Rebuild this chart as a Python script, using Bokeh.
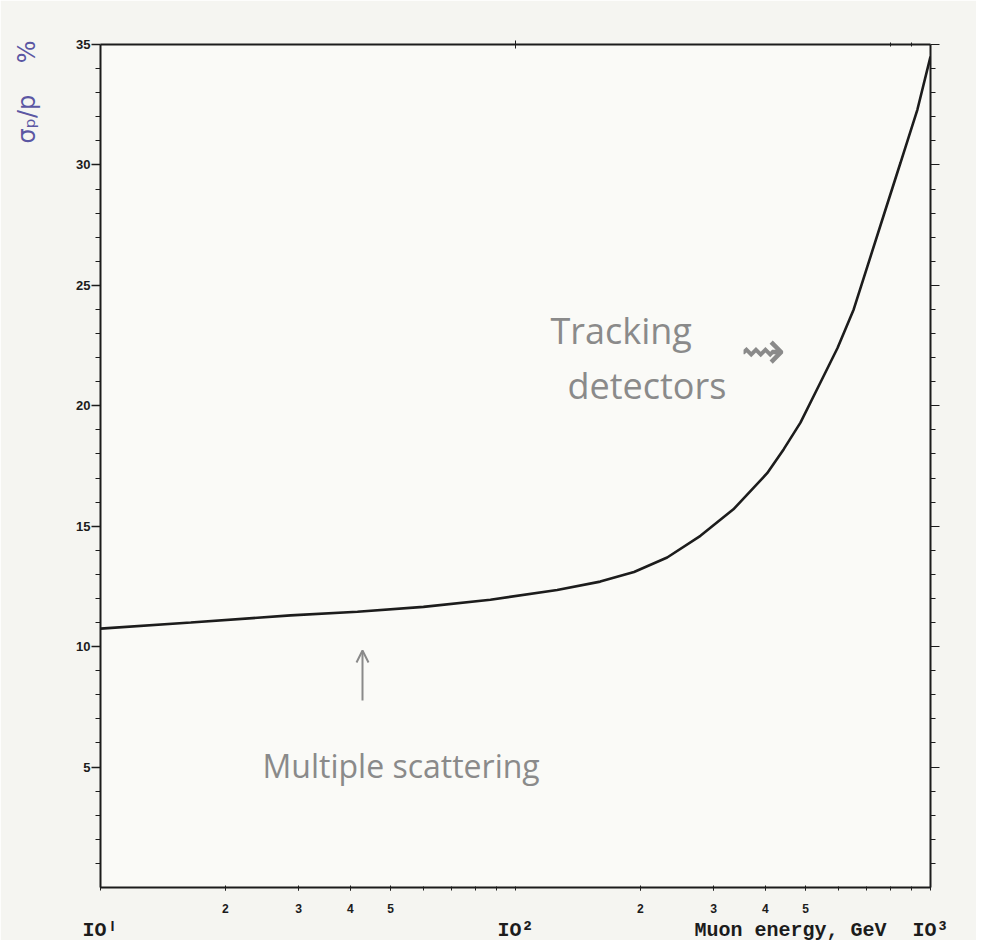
from bokeh.plotting import figure
from bokeh.models import FixedTicker, LinearAxis, LogAxis, Label, Arrow, OpenHead
from bokeh.embed import file_html
from bokeh.resources import INLINE

# ---- data ----
energy = [10, 16.5, 28.7, 41.6, 60, 87, 126, 160, 193, 232, 279, 335, 404, 443,
          486, 537, 597, 653, 705, 771, 847, 930, 1000]
resolution = [10.75, 11.0, 11.3, 11.45, 11.65, 11.95, 12.35, 12.7, 13.1, 13.7, 14.6,
              15.7, 17.2, 18.2, 19.3, 20.8, 22.4, 24.0, 25.8, 27.9, 30.1, 32.3, 34.5]

y_major = [5, 10, 15, 20, 25, 30, 35]
y_minor = list(range(1, 35))
x_minor = [m * d for d in (10, 100) for m in range(2, 10)]
x_labelled = [20, 30, 40, 50, 200, 300, 400, 500]
x_labels = ["2", "3", "4", "5", "2", "3", "4", "5"]
decades = [10, 100, 1000]
decade_labels = ["IOᴵ", "IO²", "IO³"]
x_title = "Muon energy, GeV"
y_title = "σₚ/p"
y_unit = "%"

INK = "#1c1c1c"
PENCIL = "#8a8a8a"
BLUE = "#5b57a3"

# frame placement in page pixels
FL, FT, FR, FB = 100, 44, 930, 887


def dx(px):
    """page x pixel -> data x (log axis)"""
    return 10 ** (1 + 2 * (px - FL) / (FR - FL))


def dy(py):
    """page y pixel -> data y"""
    return (FB - py) * 35 / (FB - FT)


p = figure(frame_width=FR - FL, frame_height=FB - FT, x_axis_type="log",
           x_range=(10, 1000), y_range=(0, 35),
           output_backend="svg", toolbar_location=None,
           min_border_left=FL, min_border_right=46, min_border_top=FT,
           min_border_bottom=52)
p.background_fill_color = "#fafaf7"
p.border_fill_color = "#f5f5f1"
p.outline_line_color = None
p.xgrid.visible = False
p.ygrid.visible = False

# bottom axis: minor numerals
bx = p.xaxis[0]
bx.ticker = FixedTicker(ticks=x_labelled, minor_ticks=x_minor + decades)
bx.major_label_overrides = {t: s for t, s in zip(x_labelled, x_labels)}
bx.axis_line_color = INK
bx.axis_line_width = 2
bx.major_tick_line_color = INK
bx.minor_tick_line_color = INK
bx.major_tick_out = 3
bx.major_tick_in = 2
bx.minor_tick_out = 3
bx.minor_tick_in = 1
bx.major_label_standoff = 13
bx.major_label_text_font = "Liberation Mono"
bx.major_label_text_font_style = "bold"
bx.major_label_text_font_size = "12px"
bx.major_label_text_color = INK

# second bottom row: decade labels and the axis title
title_pos = round(dx(790))
bx2 = LogAxis(ticker=FixedTicker(ticks=decades + [title_pos]))
bx2.major_label_overrides = {**{d: s for d, s in zip(decades, decade_labels)},
                             title_pos: x_title}
bx2.axis_line_color = None
bx2.major_tick_line_color = None
bx2.minor_tick_line_color = None
bx2.major_label_standoff = -3
bx2.major_label_text_font = "Liberation Mono"
bx2.major_label_text_font_style = "bold"
bx2.major_label_text_font_size = "20px"
bx2.major_label_text_color = INK
p.add_layout(bx2, "below")

# left axis
ly = p.yaxis[0]
ly.ticker = FixedTicker(ticks=y_major, minor_ticks=y_minor)
ly.axis_line_color = INK
ly.axis_line_width = 2
ly.major_tick_line_color = INK
ly.minor_tick_line_color = INK
ly.major_tick_line_width = 1.5
ly.major_tick_out = 9
ly.major_tick_in = 0
ly.minor_tick_out = 5
ly.minor_tick_in = 0
ly.major_label_standoff = 1
ly.major_label_text_font = "Liberation Sans"
ly.major_label_text_font_style = "bold"
ly.major_label_text_font_size = "13px"
ly.major_label_text_color = INK

# y title as a vertical label on an outer left axis
t_y = round(dy(118), 1)
u_y = round(dy(52), 1)
ly2 = LinearAxis(ticker=FixedTicker(ticks=[t_y, u_y]))
ly2.major_label_overrides = {t_y: y_title, u_y: y_unit}
ly2.major_label_orientation = "vertical"
ly2.axis_line_color = None
ly2.major_tick_line_color = None
ly2.minor_tick_line_color = None
ly2.major_label_standoff = 26
ly2.major_label_text_font = "DejaVu Sans"
ly2.major_label_text_font_size = "24px"
ly2.major_label_text_color = BLUE
p.add_layout(ly2, "left")

# right axis
ry = LinearAxis(ticker=FixedTicker(ticks=y_major, minor_ticks=y_minor))
ry.major_label_overrides = {t: "" for t in y_major}
ry.axis_line_color = INK
ry.axis_line_width = 2
ry.major_tick_line_color = INK
ry.minor_tick_line_color = INK
ry.major_tick_out = 9
ry.major_tick_in = 0
ry.minor_tick_out = 5
ry.minor_tick_in = 0
p.add_layout(ry, "right")

# top axis
tx = LogAxis(ticker=FixedTicker(ticks=[100], minor_ticks=[800, 900]))
tx.major_label_overrides = {100: ""}
tx.axis_line_color = INK
tx.axis_line_width = 2
tx.major_tick_line_color = INK
tx.minor_tick_line_color = INK
tx.major_tick_out = 4
tx.major_tick_in = 4
tx.minor_tick_out = 2
tx.minor_tick_in = 2
p.add_layout(tx, "above")

# curve
p.line(energy, resolution, line_color=INK, line_width=2.6)

# handwritten annotations
p.add_layout(Label(x=dx(550), y=dy(330), text="Tracking", text_font="Open Sans",
                   text_font_size="36px", text_color=PENCIL, text_baseline="alphabetic"))
p.add_layout(Label(x=dx(567), y=dy(385), text="detectors", text_font="Open Sans",
                   text_font_size="36px", text_color=PENCIL, text_baseline="alphabetic"))
p.add_layout(Label(x=dx(740), y=dy(350), text="⇝", text_font="DejaVu Sans",
                   text_font_size="54px", text_color=PENCIL, text_baseline="middle"))
p.add_layout(Label(x=dx(262), y=dy(765), text="Multiple scattering", text_font="Open Sans",
                   text_font_size="32px", text_color=PENCIL, text_baseline="alphabetic"))
p.add_layout(Arrow(x_start=dx(362), y_start=dy(700), x_end=dx(362), y_end=dy(650),
                   line_color=PENCIL, line_width=2,
                   end=OpenHead(size=12, line_color=PENCIL, line_width=2)))

open("out.html", "w").write(file_html(p, INLINE))
